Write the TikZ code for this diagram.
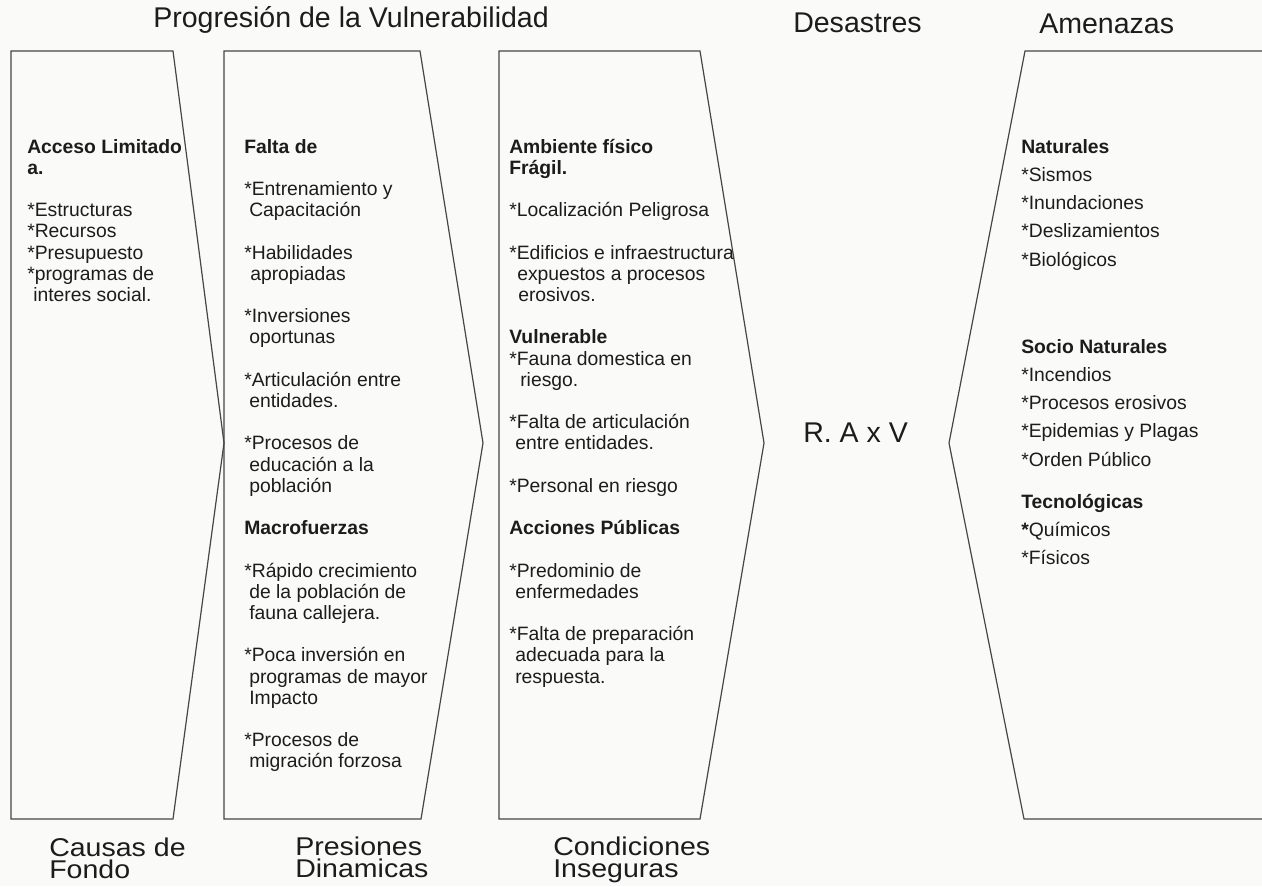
\documentclass[tikz,border=0pt]{standalone}
\usepackage{graphicx}
\usepackage{fontspec}
\setmainfont{Liberation Sans}
\definecolor{bgc}{RGB}{250,250,248}
\definecolor{linec}{RGB}{70,70,70}
\definecolor{txtc}{RGB}{28,28,28}
\tikzset{
  panel/.style={draw=linec, line width=0.9pt, line join=miter},
  body/.style={inner sep=0pt, anchor=base west, text=txtc, font=\fontsize{14.5}{17}\selectfont},
  big/.style={inner sep=0pt, anchor=base west, text=txtc, font=\fontsize{21.4}{24}\selectfont},
  pair/.style={inner sep=0pt, anchor=base west, text=txtc, font=\fontsize{21.4}{16.8}\selectfont},
}
\newcommand\twolines[2]{\vtop{\hbox{\scalebox{1}[0.9]{#1}}\hbox{\scalebox{1}[0.9]{#2}}}}
\begin{document}
\begin{tikzpicture}[x=0.75pt,y=-0.75pt]
\fill[bgc] (0,0) rectangle (1262,886);
\useasboundingbox (0,0) rectangle (1262,886);

% panels
\draw[panel] (11,51) -- (173,51) -- (224,443) -- (173,819) -- (11,819) -- cycle;
\draw[panel] (224,51) -- (420,51) -- (483,443) -- (421,819) -- (224,819) -- cycle;
\draw[panel] (499,51) -- (700,51) -- (764,443) -- (700,819) -- (499,819) -- cycle;
\draw[panel] (1262,51) -- (1025,51) -- (949,443) -- (1024,819) -- (1262,819);

% headings
\node[big] (title) at (153,27) {Progresión de la Vulnerabilidad};
\node[big] (desastres) at (793,32) {Desastres};
\node[big] (amenazas) at (1039,33) {Amenazas};
\node[big] (rav) at (803,442) {R. A x V};

\node[pair] (causas) at (49,856) {\twolines{Causas de}{Fondo}};
\node[pair] (pres) at (295,855) {\twolines{Presiones}{Dinamicas}};
\node[pair] (cond) at (553,855) {\twolines{Condiciones}{Inseguras}};

% box 1
\foreach \n/\dx/\t in {
  0/0/\textbf{Acceso Limitado},
  1/0/\textbf{a.},
  3/0/*Estructuras,
  4/0/*Recursos,
  5/0/*Presupuesto,
  6/0/*programas de,
  7/6/interes social.}
  \node[body] (ba\n) at (27+\dx,153+21.2*\n) {\t};

% box 2
\foreach \n/\dx/\t in {
  0/0/\textbf{Falta de},
  2/0/*Entrenamiento y,
  3/5/Capacitación,
  5/0/*Habilidades,
  6/6/apropiadas,
  8/0/*Inversiones,
  9/5/oportunas,
  11/0/*Articulación entre,
  12/5/entidades.,
  14/0/*Procesos de,
  15/5/educación a la,
  16/5/población,
  18/0/\textbf{Macrofuerzas},
  20/0/*Rápido crecimiento,
  21/5/de la población de,
  22/5/fauna callejera.,
  24/0/*Poca inversión en,
  25/5/programas de mayor,
  26/5/Impacto,
  28/0/*Procesos de,
  29/5/migración forzosa}
  \node[body] (bb\n) at (244+\dx,153+21.2*\n) {\t};

% box 3
\foreach \n/\dx/\t in {
  0/0/\textbf{Ambiente físico},
  1/0/\textbf{Frágil.},
  3/0/*Localización Peligrosa,
  5/0/*Edificios e infraestructura,
  6/8/expuestos a procesos,
  7/9/erosivos.,
  9/0/\textbf{Vulnerable},
  10/0/*Fauna domestica en,
  11/11/riesgo.,
  13/0/*Falta de articulación,
  14/6/entre entidades.,
  16/0/*Personal en riesgo,
  18/0/\textbf{Acciones Públicas},
  20/0/*Predominio de,
  21/6/enfermedades,
  23/0/*Falta de preparación,
  24/6/adecuada para la,
  25/6/respuesta.}
  \node[body] (bc\n) at (509+\dx,153+21.2*\n) {\t};

% box 4
\foreach \n/\t in {
  0/\textbf{Naturales},
  1/*Sismos,
  2/*Inundaciones,
  3/*Deslizamientos,
  4/*Biológicos}
  \node[body] (bd\n) at (1021,153+28.3*\n) {\t};
\foreach \n/\t in {
  0/\textbf{Socio Naturales},
  1/*Incendios,
  2/*Procesos erosivos,
  3/*Epidemias y Plagas,
  4/*Orden Público}
  \node[body] (be\n) at (1021,353+28.3*\n) {\t};
\foreach \n/\t in {
  0/\textbf{Tecnológicas},
  1/\textbf{*}Químicos,
  2/*Físicos}
  \node[body] (bf\n) at (1021,508+28.3*\n) {\t};
\end{tikzpicture}
\end{document}
